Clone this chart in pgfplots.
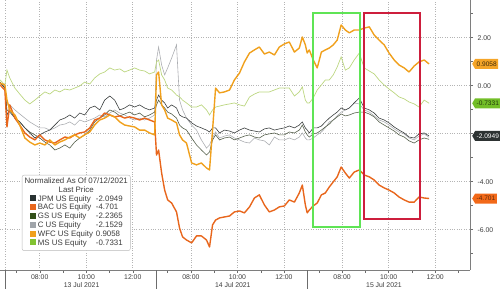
\documentclass[border=0pt]{standalone}
\usepackage{fontspec}
\setmainfont{Liberation Sans}
\usepackage{pgfplots}
\pgfplotsset{compat=1.18}
\usepackage{pgfplotstable}
\usetikzlibrary{shapes.symbols}

\definecolor{jpm}{RGB}{60,64,64}
\definecolor{bac}{RGB}{232,102,28}
\definecolor{gs}{RGB}{85,95,75}
\definecolor{cc}{RGB}{172,174,178}
\definecolor{wfc}{RGB}{240,160,28}
\definecolor{ms}{RGB}{188,214,128}
\definecolor{msbox}{RGB}{130,195,50}
\definecolor{gsbox}{RGB}{50,80,25}
\definecolor{jpmbox}{RGB}{40,50,50}
\definecolor{cbox}{RGB}{160,165,170}
\definecolor{gridc}{RGB}{180,180,180}
\definecolor{txt}{RGB}{60,60,60}
\definecolor{boxgreen}{RGB}{95,228,85}
\definecolor{boxred}{RGB}{205,30,60}
\definecolor{tagjpm}{RGB}{45,50,50}
\definecolor{tagms}{RGB}{115,190,40}
\definecolor{tagwfc}{RGB}{245,165,40}
\definecolor{tagbac}{RGB}{242,105,25}

\pgfplotstableread{
x JPM BAC GS C WFC MS
-0.21 0.15 0.03 0.11 0.15 0.11 0.24
0.00 -0.10 -0.18 -0.10 -0.05 0.03 0.03
0.09 -1.22 -1.72 -1.01 -0.80 -0.60 0.65
0.21 -1.01 -0.80 -1.10 -0.80 -1.01 0.32
0.43 -1.35 -1.35 -1.35 -1.01 -1.22 -0.10
0.64 -1.51 -1.64 -1.51 -1.18 -1.64 -0.35
0.86 -1.76 -1.97 -1.76 -1.35 -2.18 -0.60
1.07 -1.97 -2.14 -1.93 -1.51 -2.35 -0.76
1.29 -2.18 -2.26 -2.05 -1.64 -2.47 -0.60
1.50 -2.05 -2.05 -2.18 -1.76 -2.39 -0.43
1.72 -1.93 -2.26 -2.35 -1.76 -2.47 -0.26
1.93 -1.85 -2.35 -2.47 -1.85 -2.26 -0.35
2.15 -1.64 -2.39 -2.68 -1.76 -2.47 -0.18
2.36 -1.43 -2.26 -2.60 -1.64 -2.35 -0.26
2.58 -1.35 -2.14 -2.47 -1.60 -2.26 -0.14
2.79 -1.22 -2.18 -2.60 -1.51 -2.14 -0.18
3.00 -1.35 -2.05 -2.35 -1.64 -2.05 -0.10
3.22 -1.14 -1.97 -2.18 -1.43 -2.18 -0.01
3.43 -1.22 -1.93 -2.05 -1.51 -2.05 0.15
3.65 -0.93 -1.76 -1.85 -1.43 -1.93 0.07
3.86 -0.85 -1.43 -1.51 -1.35 -1.64 0.32
4.08 -1.01 -1.35 -1.35 -1.22 -1.43 0.49
4.29 -0.60 -1.14 -1.22 -1.30 -1.35 0.57
4.51 -0.43 -1.22 -1.01 -1.14 -1.22 0.74
4.72 -0.60 -1.30 -1.10 -1.01 -1.30 0.65
4.94 -1.01 -1.26 -1.26 -1.14 -1.51 0.70
5.15 -0.93 -1.35 -1.18 -1.22 -1.64 0.57
5.36 -0.80 -1.30 -1.10 -1.35 -1.68 0.65
5.58 -0.89 -1.35 -1.22 -1.43 -1.72 0.74
5.79 -0.80 -1.43 -1.14 -1.35 -1.85 0.65
6.01 -0.93 -1.35 -1.30 -1.43 -1.85 0.61
6.22 -1.01 -1.43 -1.22 -1.35 -1.97 0.49
6.44 -0.93 -1.51 -1.10 -1.22 -2.05 0.57
6.52 -0.60 -2.89 -0.80 1.07 0.45 0.99
6.61 -0.39 -2.68 -0.60 1.61 0.57 1.07
6.74 -0.60 -3.64 -0.80 0.86 -0.80 0.45
6.87 -0.72 -4.35 -0.93 0.45 -1.01 0.24
7.00 -0.93 -4.76 -1.10 0.74 -1.35 -0.10
7.17 -0.80 -4.89 -1.18 1.15 -1.43 -0.18
7.38 -0.93 -5.26 -1.35 1.70 -1.55 -0.39
7.51 -1.22 -5.93 -1.64 -0.60 -2.05 -0.47
7.64 -1.30 -6.30 -1.76 -1.01 -2.26 -0.60
7.81 -1.35 -6.43 -1.85 -1.35 -2.39 -0.72
8.03 -1.55 -6.55 -2.18 -1.64 -3.22 -0.89
8.24 -1.68 -6.26 -2.47 -1.85 -3.30 -0.89
8.45 -1.76 -6.26 -2.68 -2.26 -3.22 -0.80
8.67 -1.85 -6.43 -2.89 -2.60 -3.43 -1.01
8.80 -1.93 -6.72 -2.76 -2.47 -3.51 -1.22
8.93 -1.76 -5.80 -2.26 -2.18 -1.85 -1.01
9.06 -1.76 -5.60 -2.05 -1.93 -0.10 -0.89
9.23 -1.97 -5.51 -2.26 -2.18 -0.30 -0.85
9.44 -1.85 -5.47 -2.18 -2.10 -0.26 -0.80
9.66 -1.89 -5.43 -2.14 -2.05 -0.18 -0.76
9.87 -1.97 -5.26 -2.26 -2.18 0.24 -0.72
10.09 -1.85 -5.22 -2.18 -2.26 0.53 -0.80
10.30 -1.76 -5.30 -2.10 -2.35 0.99 -0.85
10.52 -1.85 -5.05 -2.05 -2.39 1.36 -0.47
10.73 -1.89 -4.68 -2.14 -2.18 1.49 -0.35
10.94 -1.93 -4.55 -2.18 -2.26 1.61 -0.26
11.16 -1.80 -4.97 -2.05 -2.30 1.32 -0.26
11.37 -1.76 -5.26 -2.01 -2.47 1.40 -0.26
11.59 -1.85 -5.18 -1.97 -2.14 1.28 -0.18
11.80 -1.80 -5.05 -2.05 -2.26 1.61 -0.10
12.02 -1.76 -5.01 -2.05 -2.26 1.74 -0.10
12.23 -1.68 -4.76 -1.93 -2.18 1.82 -0.10
12.45 -1.76 -4.85 -1.97 -2.26 1.40 -0.43
12.66 -1.64 -4.47 -1.85 -2.14 1.57 -0.26
12.79 -1.51 -4.14 -1.64 -1.97 2.03 -0.05
12.92 -1.76 -4.97 -1.93 -2.18 1.70 -0.60
13.00 -1.85 -5.30 -2.05 -2.26 1.36 -0.72
13.09 -1.97 -5.18 -2.14 -2.26 1.49 -0.72
13.26 -1.76 -5.01 -2.01 -2.18 1.07 -0.51
13.43 -1.76 -4.89 -1.97 -2.05 0.74 -0.18
13.61 -1.68 -4.55 -1.85 -1.93 1.40 0.03
13.78 -1.51 -4.47 -1.72 -1.76 1.49 0.24
13.95 -1.35 -4.22 -1.60 -1.51 1.57 0.24
14.12 -1.22 -4.01 -1.43 -1.43 1.70 0.45
14.29 -1.10 -3.80 -1.30 -1.26 1.90 0.78
14.46 -0.93 -3.39 -1.18 -1.10 2.53 1.20
14.64 -1.01 -3.64 -1.26 -1.01 2.32 0.65
14.81 -0.93 -3.85 -1.22 -0.93 2.20 0.74
15.02 -0.72 -3.60 -1.14 -0.72 2.32 1.07
15.24 -0.51 -3.51 -1.10 -0.76 2.32 1.36
15.45 -0.93 -3.72 -1.10 -1.01 2.40 0.74
15.67 -1.01 -3.80 -1.18 -1.10 2.45 0.61
15.88 -1.14 -3.93 -1.30 -1.26 2.11 0.49
16.09 -1.35 -4.14 -1.51 -1.43 1.90 0.24
16.31 -1.43 -4.26 -1.64 -1.51 1.70 0.03
16.52 -1.55 -4.35 -1.76 -1.64 1.36 -0.14
16.74 -1.72 -4.47 -1.89 -1.80 1.07 -0.30
16.95 -1.85 -4.64 -2.05 -1.93 0.86 -0.47
17.17 -1.97 -4.76 -2.14 -2.01 0.74 -0.55
17.38 -2.14 -4.85 -2.30 -2.18 0.57 -0.68
17.60 -2.18 -4.85 -2.39 -2.26 0.82 -0.76
17.81 -2.01 -4.64 -2.26 -2.10 0.99 -0.89
18.03 -1.97 -4.68 -2.18 -2.01 1.07 -0.60
18.24 -2.0949 -4.701 -2.2365 -2.1529 0.9058 -0.7331
}\data

\begin{document}
\begin{tikzpicture}
\begin{axis}[
  at={(0,0)}, anchor=south west,
  scale only axis, width=470bp, height=270bp,
  xmin=-0.21, xmax=20, ymin=-7.68, ymax=3.57,
  axis x line=bottom, axis y line=right,
  axis line style={-, gridc!70!black, line width=0.5pt},
  xtick={1.5,3.5,5.5,8,10,12,14.5,16.5,18.5},
  xticklabels={08:00,10:00,12:00,08:00,10:00,12:00,08:00,10:00,12:00},
  minor xtick={0.5,2.5,4.5,7,9,11,13.5,15.5,17.5,19.5},
  ytick={-6,-4,-2,0,2},
  yticklabels={-6.00,-4.00,,0.00,2.00},
  minor ytick={-7,-5,-3,-1,1,3},
  grid=major,
  major grid style={gridc, dotted, line width=0.6pt},
  tick align=outside,
  major tick length=3bp, minor tick length=2.5bp,
  tick style={gridc!60!black, line width=0.4pt},
  every tick label/.append style={font=\fontsize{6.9}{7.5}\selectfont, text=txt},
  xticklabel style={yshift=1.5bp},
  yticklabel style={xshift=1bp},
  clip mode=individual,
]
\draw[gridc, dotted, line width=0.6pt] (axis cs:0,-7.68) -- (axis cs:0,3.57);
\addplot[cc, line width=0.6pt] table[x=x, y=C] {\data};
\addplot[gs, line width=0.6pt] table[x=x, y=GS] {\data};
\addplot[jpm, line width=0.6pt] table[x=x, y=JPM] {\data};
\addplot[ms, line width=0.7pt] table[x=x, y=MS] {\data};
\addplot[bac, line width=1.4pt, line join=round] table[x=x, y=BAC] {\data};
\addplot[wfc, line width=1.4pt, line join=round] table[x=x, y=WFC] {\data};

\draw[boxgreen, line width=1.9pt] (axis cs:13.23,3.04) rectangle (axis cs:15.28,-5.89);
\draw[boxred, line width=1.9pt] (axis cs:15.46,3.02) rectangle (axis cs:17.84,-5.57);

\coordinate (s0) at (axis cs:0,-7.68);
\coordinate (s1) at (axis cs:6.5,-7.68);
\coordinate (s2) at (axis cs:13,-7.68);
\coordinate (d0) at (axis cs:3.3,-7.68);
\coordinate (d1) at (axis cs:9.8,-7.68);
\coordinate (d2) at (axis cs:16.3,-7.68);

\node[draw=gray!55, rounded corners=2bp, fill=white, inner sep=2.5bp, anchor=north west,
      font=\fontsize{7.9}{8.9}\selectfont, text=txt, align=center]
  at (axis cs:0.73,-3.72) {Normalized As Of 07/12/2021\\Last Price\\
  \begin{tabular}[t]{@{}l@{\hspace{3bp}}l@{}}
  \textcolor{jpmbox}{\rule{6bp}{6bp}} JPM US Equity & -2.0949\\
  \textcolor{bac}{\rule{6bp}{6bp}} BAC US Equity & -4.701\\
  \textcolor{gsbox}{\rule{6bp}{6bp}} GS US Equity & -2.2365\\
  \textcolor{cbox}{\rule{6bp}{6bp}} C US Equity & -2.1529\\
  \textcolor{wfc}{\rule{6bp}{6bp}} WFC US Equity & 0.9058\\
  \textcolor{msbox}{\rule{6bp}{6bp}} MS US Equity & -0.7331
  \end{tabular}};

\coordinate (tw) at (axis cs:20,0.9058);
\coordinate (tm) at (axis cs:20,-0.7331);
\coordinate (tj) at (axis cs:20,-2.0949);
\coordinate (tb) at (axis cs:20,-4.701);
\end{axis}
\draw[gridc!60!black, line width=0.5pt] (s0) -- ++(0,-19bp);
\draw[gridc!60!black, line width=0.5pt] (s1) -- ++(0,-19bp);
\draw[gridc!60!black, line width=0.5pt] (s2) -- ++(0,-19bp);
\node[font=\fontsize{6.9}{7.5}\selectfont, text=txt, anchor=base] at ([yshift=-17.5bp]d0) {13 Jul 2021};
\node[font=\fontsize{6.9}{7.5}\selectfont, text=txt, anchor=base] at ([yshift=-17.5bp]d1) {14 Jul 2021};
\node[font=\fontsize{6.9}{7.5}\selectfont, text=txt, anchor=base] at ([yshift=-17.5bp]d2) {15 Jul 2021};
\tikzset{tag/.style={signal, signal to=west, signal pointer angle=120, anchor=west,
   font=\fontsize{6.6}{7}\selectfont, inner xsep=1.5bp, inner ysep=1.3bp, minimum height=10bp}}
\node[tag, fill=tagwfc, text=black!75!tagwfc] at ([xshift=2bp]tw) {0.9058};
\node[tag, fill=tagms, text=black!70!tagms] at ([xshift=2bp]tm) {-0.7331};
\node[tag, fill=tagjpm, text=white] at ([xshift=2bp]tj) {-2.0949};
\node[tag, fill=tagbac, text=black!60!tagbac] at ([xshift=2bp]tb) {-4.701};
\pgfresetboundingbox
\path (0,-19bp) rectangle (500bp,270bp);
\end{tikzpicture}
\end{document}
